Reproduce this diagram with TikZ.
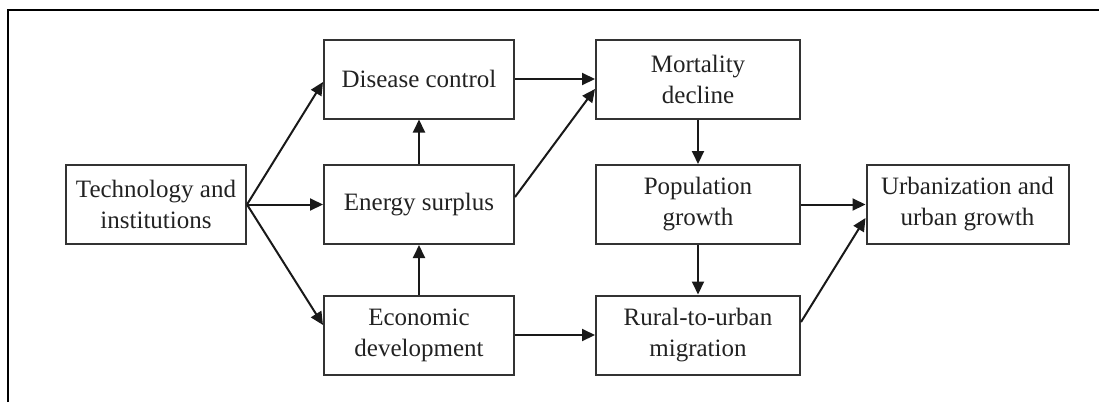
\documentclass[tikz,border=0pt]{standalone}
\usepackage{fontspec}
\setmainfont{Liberation Serif}
\usetikzlibrary{arrows.meta}
\definecolor{boxline}{HTML}{333333}
\definecolor{txt}{HTML}{222222}
\tikzset{
  blk/.style={draw=boxline, line width=2pt, inner sep=0pt, align=center,
    text=txt, font=\fontsize{25}{31}\selectfont, minimum height=79pt},
  arr/.style={draw=black!90, line width=2pt, -{Triangle[length=13pt,width=12pt]}}
}
\begin{document}
\begin{tikzpicture}[x=1pt,y=-1pt]
\useasboundingbox (0,0) rectangle (1099,402);
\draw[line width=2pt, black] (8,402) -- (8,10) -- (1099,10);
\node[blk, minimum width=180pt] (tech) at (156,204.5) {Technology and\\institutions};
\node[blk, minimum width=190pt] (dis) at (419,79) {Disease control};
\node[blk, minimum width=190pt] (ene) at (419,204.5) {Energy surplus};
\node[blk, minimum width=190pt] (eco) at (419,335) {Economic\\development};
\node[blk, minimum width=204pt] (mor) at (698,79) {Mortality\\decline};
\node[blk, minimum width=204pt] (pop) at (698,204.5) {Population\\growth};
\node[blk, minimum width=204pt] (rur) at (698,335) {Rural-to-urban\\migration};
\node[blk, minimum width=202pt] (urb) at (967.5,204.5) {Urbanization and\\urban growth};
\draw[arr] (tech.east) -- ([yshift=-3pt]dis.west);
\draw[arr] (tech.east) -- (ene.west);
\draw[arr] (tech.east) -- ([yshift=10pt]eco.west);
\draw[arr] (ene.north) -- (dis.south);
\draw[arr] (eco.north) -- (ene.south);
\draw[arr] (dis.east) -- (mor.west);
\draw[arr] ([yshift=7.5pt]ene.east) -- ([yshift=-10pt]mor.west);
\draw[arr] (mor.south) -- (pop.north);
\draw[arr] (pop.south) -- (rur.north);
\draw[arr] (eco.east) -- (rur.west);
\draw[arr] (pop.east) -- (urb.west);
\draw[arr] ([yshift=13pt]rur.east) -- ([yshift=-13.5pt]urb.west);
\end{tikzpicture}
\end{document}
